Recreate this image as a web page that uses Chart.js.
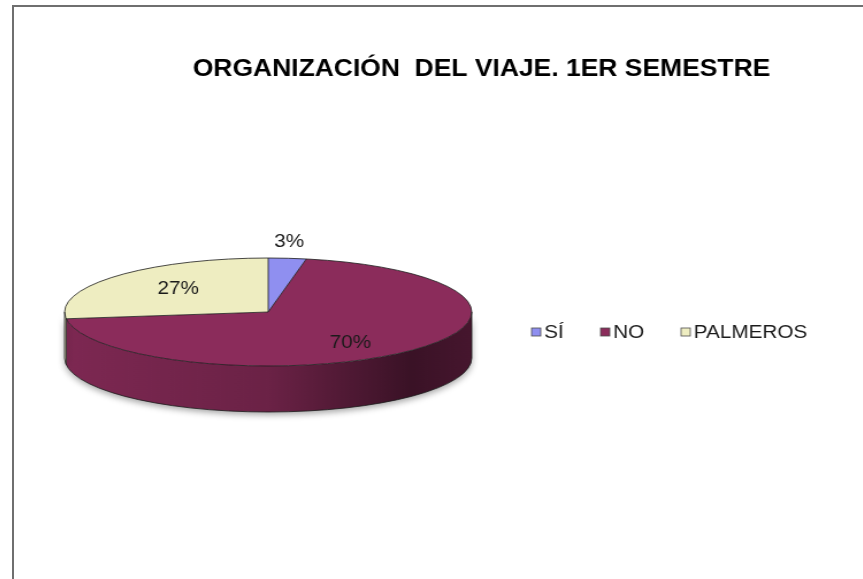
<!DOCTYPE html>
<html>
<head>
<meta charset="utf-8">
<title>Organización del viaje</title>
<script src="https://cdn.jsdelivr.net/npm/chart.js@4.4.0/dist/chart.umd.min.js"></script>
<style>
  html, body { margin: 0; padding: 0; background: #fff; overflow: hidden; width: 863px; height: 579px; }
  #frame {
    position: absolute; left: 12px; top: 5px; width: 960px; height: 640px;
    border-left: 2px solid #6f6f6f; border-top: 2px solid #6f6f6f;
  }
  #pie { position: absolute; left: 0; top: 0; }
</style>
</head>
<body>
<div id="frame">
  <canvas id="pie" width="813" height="612" style="width:935px;height:612px"></canvas>
</div>
<script>
const chartTitle = "ORGANIZACIÓN  DEL VIAJE. 1ER SEMESTRE";
const labels = ["SÍ", "NO", "PALMEROS"];
const values = [3, 70, 27];
const colors = ["#8f8ff0", "#8b2c5b", "#eeedc1"];

const TILT = 0.305;   // vertical squash of the pie top
const DEPTH = 46;     // rim thickness in px
const FONT = "'Liberation Sans', Arial, sans-serif";

// darken a hex colour by factor f
function shade(hex, f) {
  const n = parseInt(hex.slice(1), 16);
  const r = Math.round(((n >> 16) & 255) * f);
  const g = Math.round(((n >> 8) & 255) * f);
  const b = Math.round((n & 255) * f);
  return `rgb(${r},${g},${b})`;
}

const pie3d = {
  id: "pie3d",
  beforeDatasetsDraw(chart) {
    const ctx = chart.ctx;
    const arcs = chart.getDatasetMeta(0).data;
    const { x, y, outerRadius: rx } = arcs[0];
    const ry = rx * TILT;

    // rim: only the front half (0..PI) can be seen
    arcs.forEach((arc, i) => {
      const a0 = Math.max(arc.startAngle, 0);
      const a1 = Math.min(arc.endAngle, Math.PI);
      if (a1 <= a0) return;
      const grad = ctx.createLinearGradient(x - rx, 0, x + rx, 0);
      grad.addColorStop(0, shade(colors[i], 0.9));
      grad.addColorStop(0.5, shade(colors[i], 0.77));
      grad.addColorStop(0.85, shade(colors[i], 0.42));
      grad.addColorStop(1, shade(colors[i], 0.5));
      ctx.save();
      ctx.shadowColor = "rgba(0,0,0,0.35)";
      ctx.shadowBlur = 6;
      ctx.shadowOffsetY = 3;
      ctx.beginPath();
      ctx.ellipse(x, y, rx, ry, 0, a0, a1, false);
      ctx.ellipse(x, y + DEPTH, rx, ry, 0, a1, a0, true);
      ctx.closePath();
      ctx.fillStyle = grad;
      ctx.fill();
      ctx.restore();
    });

    // squash the slices drawn by the library
    ctx.save();
    ctx.translate(0, y);
    ctx.scale(1, TILT);
    ctx.translate(0, -y);
  },
  afterDatasetsDraw(chart) {
    const ctx = chart.ctx;
    ctx.restore();
    const arcs = chart.getDatasetMeta(0).data;
    const { x, y, outerRadius: rx } = arcs[0];
    const ry = rx * TILT;

    // outlines
    ctx.save();
    ctx.strokeStyle = "#1c1c1c";
    ctx.lineWidth = 0.8;
    ctx.beginPath();
    ctx.ellipse(x, y, rx, ry, 0, 0, Math.PI * 2);
    ctx.stroke();
    ctx.beginPath();
    ctx.ellipse(x, y + DEPTH, rx, ry, 0, 0, Math.PI);
    ctx.stroke();
    ctx.beginPath();
    ctx.moveTo(x - rx, y); ctx.lineTo(x - rx, y + DEPTH);
    ctx.moveTo(x + rx, y); ctx.lineTo(x + rx, y + DEPTH);
    arcs.forEach((arc) => {
      const a = arc.startAngle;
      const px = x + rx * Math.cos(a);
      const py = y + ry * Math.sin(a);
      ctx.moveTo(x, y); ctx.lineTo(px, py);
      if (Math.sin(a) > 0) { ctx.moveTo(px, py); ctx.lineTo(px, py + DEPTH); }
    });
    ctx.stroke();

    // percentage labels
    const total = values.reduce((s, v) => s + v, 0);
    ctx.fillStyle = "#1a1a1a";
    ctx.font = "18px " + FONT;
    ctx.textAlign = "center";
    ctx.textBaseline = "middle";
    arcs.forEach((arc, i) => {
      const frac = values[i] / total;
      const mid = (arc.startAngle + arc.endAngle) / 2;
      const outside = frac < 0.05;
      const kx = outside ? 1.09 : 0.59;
      const ky = outside ? 1.3 : 0.72;
      ctx.fillText(Math.round(frac * 100) + "%",
        x + rx * kx * Math.cos(mid),
        y + ry * ky * Math.sin(mid) + (outside ? 0 : 3));
    });
    ctx.restore();
  },
  afterDraw(chart) {
    const ctx = chart.ctx;
    ctx.save();

    // title, centred on the whole chart box
    ctx.fillStyle = "#000";
    ctx.font = "bold 23px " + FONT;
    ctx.textAlign = "center";
    ctx.textBaseline = "middle";
    ctx.fillText(chartTitle, chart.width / 2, 63);

    // legend in a single row to the right of the pie
    const ly = 325;
    let bx = 450;
    ctx.font = "18px " + FONT;
    ctx.textAlign = "left";
    labels.forEach((lab, i) => {
      ctx.fillStyle = colors[i];
      ctx.fillRect(bx, ly - 4, 8, 8);
      ctx.strokeStyle = "#4d4d4d";
      ctx.lineWidth = 0.8;
      ctx.strokeRect(bx, ly - 4, 8, 8);
      ctx.fillStyle = "#1a1a1a";
      ctx.fillText(lab, bx + 11, ly + 1);
      bx += 11 + ctx.measureText(lab).width + 32;
    });
    ctx.restore();
  }
};

new Chart(document.getElementById("pie"), {
  type: "pie",
  data: {
    labels: labels,
    datasets: [{
      data: values,
      backgroundColor: colors,
      borderWidth: 0
    }]
  },
  options: {
    responsive: false,
    animation: false,
    events: [],
    layout: { padding: { left: 44, right: 415, top: 100, bottom: 102 } },
    plugins: {
      legend: { display: false },
      tooltip: { enabled: false },
      title: { display: false }
    }
  },
  plugins: [pie3d]
});
</script>
</body>
</html>
